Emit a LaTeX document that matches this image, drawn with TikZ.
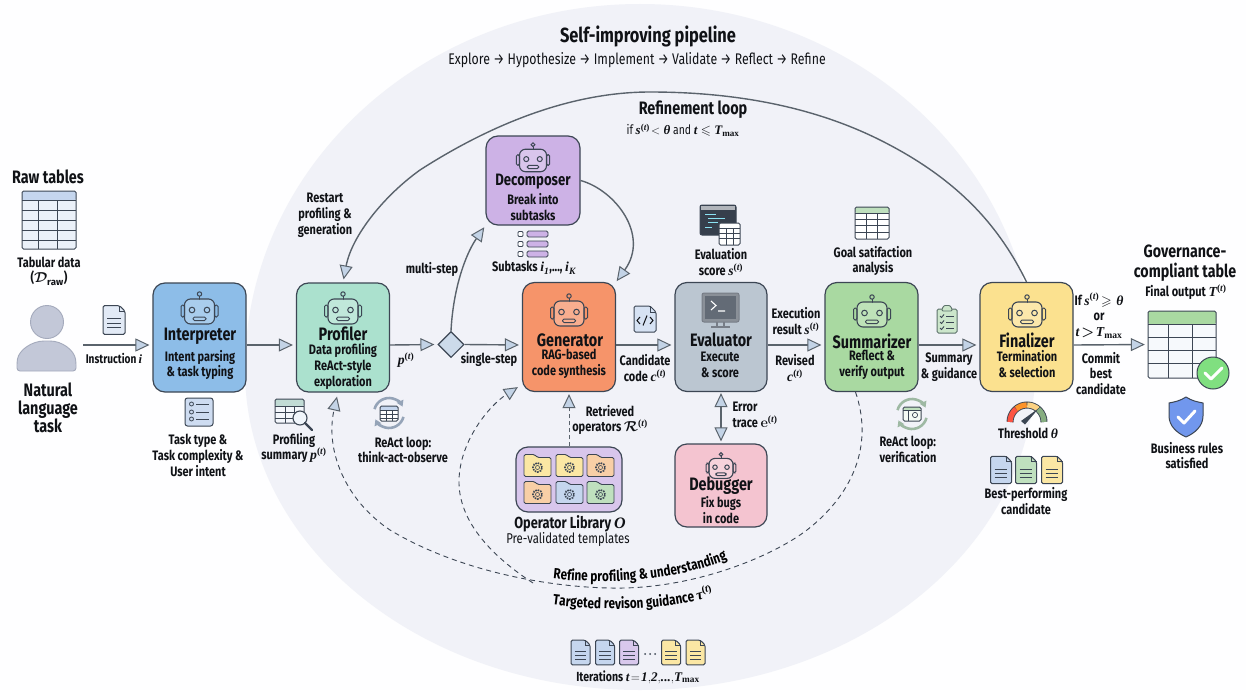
\documentclass[tikz,border=0pt]{standalone}
\usepackage{amsmath,amssymb}
\usepackage{fontspec}
\usetikzlibrary{arrows.meta,shapes.geometric,decorations.text,calc}
\setmainfont{Fira Sans}
\newfontfamily\lbf[FakeStretch=.8]{Fira Sans}
\newfontfamily\mthf{Liberation Serif}
\newcommand\mv[1]{\text{\mthf\bfseries\itshape #1}}
\newcommand\tsp{^{\text{\mthf\bfseries(\itshape t\upshape)}}}
\newcommand\tmx{\mv{T}_{\text{\mthf\bfseries max}}}
\newcommand\lblfont{\lbf\bfseries\fontsize{13.7}{15.8}\selectfont\boldmath}
\newcommand\crvfont{\lbf\bfseries\fontsize{14.7}{15.8}\selectfont\boldmath}
\newcommand\ttlfont{\lbf\bfseries\fontsize{18}{20}\selectfont\boldmath}
\newcommand\bigfont{\lbf\bfseries\fontsize{18}{17.8}\selectfont\boldmath}
\definecolor{bdr}{HTML}{3C4654}
\definecolor{arrf}{HTML}{C3D3E6}
\definecolor{lin}{HTML}{5A636C}
\definecolor{bgp}{HTML}{F1F2F8}
\definecolor{dkt}{HTML}{101216}
\definecolor{cblue}{HTML}{C5D6EE}
\definecolor{cgreen}{HTML}{BFE0BE}
\definecolor{cyel}{HTML}{FBE7A4}
\definecolor{cpur}{HTML}{D8C8EC}
\definecolor{corg}{HTML}{F8CFA6}
\definecolor{cteal}{HTML}{BFDDCB}
\definecolor{intpc}{HTML}{8DBDE8}
\definecolor{profc}{HTML}{ABE1CE}
\definecolor{decoc}{HTML}{CDB2E6}
\definecolor{genc}{HTML}{F6946A}
\definecolor{evalc}{HTML}{BBC6D1}
\definecolor{debc}{HTML}{F4C4D0}
\definecolor{sumc}{HTML}{A9D9A1}
\definecolor{finc}{HTML}{FBE18F}
\definecolor{libc}{HTML}{D8C6EC}
\definecolor{persf}{HTML}{C3C8D8}
\definecolor{perse}{HTML}{A4AABC}
\tikzset{
  box/.style={draw=bdr,line width=1.2pt,rounded corners=12pt,inner sep=0pt,minimum width=93pt,minimum height=109pt},
  conn/.style={draw=lin,line width=1.4pt,-{Triangle[length=14pt,width=13pt,fill=arrf,color=lin,line width=1pt]},shorten >=3pt},
  dconn/.style={conn,draw=bdr,line width=.9pt,dash pattern=on 5pt off 4pt,shorten >=0pt},
  lbl/.style={font=\lblfont,align=center,inner sep=0pt,text=dkt},
  ttl/.style={font=\ttlfont,align=center,inner sep=0pt,text=dkt},
  bigl/.style={font=\bigfont,align=center,inner sep=0pt,text=dkt},
  robot/.pic={
    \draw[bdr,line width=1pt] (0,-11) -- (0,-15);
    \draw[bdr,line width=1pt] (0,-17) circle[radius=2.2pt];
    \draw[bdr,line width=1pt,rounded corners=1.5pt] (-18.5,-6) rectangle (-15,6);
    \draw[bdr,line width=1pt,rounded corners=1.5pt] (15,-6) rectangle (18.5,6);
    \draw[bdr,line width=1.1pt,rounded corners=6pt,fill=white,fill opacity=.25] (-15,-12) rectangle (15,13);
    \draw[bdr,line width=1pt] (-7.5,-1) circle[radius=2.8pt];
    \draw[bdr,line width=1pt] (7.5,-1) circle[radius=2.8pt];
    \draw[bdr,line width=1pt,rounded corners=1.5pt] (-6.5,6) rectangle (6.5,9.5);
  },
  doc/.pic={
    \draw[bdr,line width=1pt,fill=#1,rounded corners=1.5pt] (-10,-13) -- (5,-13) -- (10,-8) -- (10,13) -- (-10,13) -- cycle;
    \draw[bdr,line width=.8pt] (5,-13) -- (5,-8) -- (10,-8);
    \draw[bdr,line width=.9pt] (-6,-1) -- (6,-1) (-6,3) -- (6,3) (-6,7) -- (6,7);
  },
  folder/.pic={
    \draw[bdr,line width=.9pt,fill=#1,rounded corners=1.5pt] (-13.5,-11) -- (-3,-11) -- (0,-8) -- (13.5,-8) -- (13.5,11) -- (-13.5,11) -- cycle;
    \draw[bdr,line width=1.6pt,dash pattern=on 1.6pt off 1pt] (0,2) circle[radius=4.6pt];
    \draw[bdr,line width=.6pt] (0,2) circle[radius=2pt];
  },
}
\newcommand\gridt[9]{%
  \fill[#7,rounded corners=1.5pt] (#1,#2) rectangle (#3,#4);
  \fill[#6,rounded corners=1.5pt] (#1,#2) rectangle (#3,#5);
  \foreach \gx in {#8} \draw[bdr,line width=.9pt] (\gx,#5) -- (\gx,#4);
  \foreach \gy in {#9} \draw[bdr,line width=.9pt] (#1,\gy) -- (#3,\gy);
  \draw[bdr,line width=1pt,rounded corners=1.5pt] (#1,#2) rectangle (#3,#4);
}
\begin{document}
\begin{tikzpicture}[x=1pt,y=-1pt]
\useasboundingbox (0,0) rectangle (1246,690);
\fill[white!96!bgp] (0,0) rectangle (1246,690);
% big region
\fill[bgp] (245,370) .. controls (245,168) and (422,4) .. (640,4) .. controls (858,4) and (1035,168) .. (1035,370) .. controls (1035,547) and (858,690) .. (640,690) .. controls (422,690) and (245,547) .. (245,370) -- cycle;
\coordinate (ax) at (0,345);

% boxes
\node[box,fill=intpc] (intp) at (199.5,337.5) {};
\node[box,fill=profc] (prof) at (343,337.5) {};
\node[box,fill=decoc,minimum height=89pt,minimum width=94pt] (deco) at (533,180.5) {};
\node[box,fill=genc] (gen) at (569,337) {};
\node[box,fill=evalc,minimum width=92pt] (eval) at (721,337) {};
\node[box,fill=debc,minimum width=92pt,minimum height=83pt] (debg) at (721,485.5) {};
\node[box,fill=libc,minimum width=106pt,minimum height=65pt] (lib) at (569,479.5) {};
\node[box,fill=sumc] (summ) at (871.5,337) {};
\node[box,fill=finc] (fina) at (1026.5,337) {};
\node[draw=bdr,fill=arrf!85!white,line width=1.1pt,diamond,aspect=1,minimum width=26pt,minimum height=26pt,inner sep=0pt] (dia) at (451,344.5) {};
\node[inner sep=0pt,minimum width=68pt,minimum height=67pt] (otab) at (1182,344.5) {};
\coordinate (pers) at (83,345);

% refinement loop
\draw[conn] (fina.north) .. controls (1000,228) and (960,180) .. (880,140) .. controls (810,105) and (730,92) .. (650,92) .. controls (570,92) and (490,125) .. (420,170) .. controls (385,195) and (352,235) .. (prof.north);
% straight connectors
\draw[conn] (pers) -- (intp.west |- ax);
\draw[conn] (intp.east |- ax) -- (prof.west |- ax);
\draw[conn] (prof.east |- ax) -- (dia.west);
\draw[conn] (dia.east) -- (gen.west |- ax);
\draw[conn] (gen.east |- ax) -- (eval.west |- ax);
\draw[conn] (eval.east |- ax) -- (summ.west |- ax);
\draw[conn] (summ.east |- ax) -- (fina.west |- ax);
\draw[conn] (fina.east |- ax) -- (otab.west);
\draw[conn,shorten >=2pt] (dia.north) .. controls (453,290) and (465,255) .. (deco.south west);
\draw[conn,shorten >=1pt] (deco.east) .. controls (615,190) and (650,235) .. (gen.north east);
\draw[lin,line width=1.4pt,{Triangle[length=14pt,width=13pt,fill=arrf,color=lin,line width=1pt]}-{Triangle[length=14pt,width=13pt,fill=arrf,color=lin,line width=1pt]},shorten >=2pt,shorten <=1pt] (eval.south) -- (debg.north);
\draw[conn,line width=1pt,dash pattern=on 4pt off 3pt,shorten >=2pt] (lib.north) -- (gen.south);
% dashed feedback
\draw[dconn] ($(summ.south)+(-16,0)$) .. controls (872,440) and (858,490) .. (807,530) .. controls (770,558) and (690,590) .. (610,588) .. controls (550,587) and (460,572) .. (390,530) .. controls (345,500) and (325,450) .. ($(prof.south)+(-6,4)$);
\draw[dconn] (533,583) .. controls (490,555) and (458,520) .. (459,480) .. controls (460,440) and (490,405) .. ($(gen.south west)+(-4,-5)$);

% robots
\pic at (199.5,311) {robot};
\pic at (343,311) {robot};
\pic[scale=.9] at (533,160) {robot};
\pic at (569,313) {robot};
\pic[scale=.8] at (721,468) {robot};
\pic at (872,314) {robot};
\pic at (1027,314) {robot};

% box texts
\node[bigl] (t1) at (200,336) {Interpreter};
\node[lbl] (s1) at (200,365) {Intent parsing\\\& task typing};
\node[bigl] (t2) at (343,334) {Profiler};
\node[lbl] (s2) at (343,366.5) {Data profiling\\ReAct-style\\exploration};
\node[bigl,font=\lbf\bfseries\fontsize{16.5}{18}\selectfont] (t3) at (533,182) {Decomposer};
\node[lbl] (s3) at (533,207) {Break into\\subtasks};
\node[bigl] (t4) at (570,340) {Generator};
\node[lbl] (s4) at (569,364) {RAG-based\\code synthesis};
\node[bigl] (t5) at (721,340) {Evaluator};
\node[lbl] (s5) at (720,365) {Execute\\\& score};
\node[bigl] (t6) at (721,486) {Debugger};
\node[lbl] (s6) at (721,510) {Fix bugs\\in code};
\node[bigl] (t7) at (872,341) {Summarizer};
\node[lbl] (s7) at (872,365) {Reflect \&\\verify output};
\node[bigl] (t8) at (1027,340) {Finalizer};
\node[lbl] (s8) at (1027,364) {Termination\\\& selection};

% other labels
\node[ttl,font=\lbf\bfseries\fontsize{20.5}{24}\selectfont] (title) at (648,36) {Self-improving pipeline};
\node[lbl,font=\lbf\fontsize{15.4}{16}\selectfont] (subt) at (637,60) {Explore → Hypothesize → Implement → Validate → Reflect → Refine};
\node[ttl,font=\lbf\bfseries\fontsize{18}{20}\selectfont] (reft) at (693,110) {Refinement loop};
\node[lbl,font=\lbf\fontsize{13}{14}\selectfont] (refc) at (683,130) {if $\mv{s}\tsp\!<\mv{θ}$ and $\mv{t}\leqslant\tmx$};
\node[bigl] (a1) at (48,177) {Raw tables};
\node[lbl] (a2) at (49,271) {Tabular data\\($\mathcal{D}_{\mathrm{raw}}$)};
\node[bigl] (a3) at (48,408) {Natural\\language\\task};
\node[lbl,font=\lbf\bfseries\fontsize{12.6}{15}\selectfont] (a4) at (114,358) {Instruction $\mv{i}$};
\node[lbl] (a5) at (198,455.5) {Task type \&\\Task complexity \&\\User intent};
\node[lbl] (a6) at (294,448) {Profiling\\summary $\mv{p}\tsp$};
\node[lbl] (a7) at (325,215) {Restart\\profiling \&\\generation};
\node[lbl] (a8) at (406,360) {$\mv{p}\tsp$};
\node[lbl] (a9) at (403,450) {ReAct loop:\\think-act-observe};
\node[lbl] (a10) at (432,269) {multi-step};
\node[lbl] (a11) at (489,359) {single-step};
\node[lbl] (a12) at (534,268) {Subtasks $\mv{i}_{\mv{1}}$,..., $\mv{i}_{\mv{K}}$};
\node[lbl] (a13) at (610,420) {Retrieved\\operators $\mathcal{R}\tsp$};
\node[lbl,font=\lbf\bfseries\fontsize{16}{16}\selectfont] (a14) at (570,524) {Operator Library $\mv{O}$};
\node[lbl,font=\lbf\fontsize{14.2}{16}\selectfont] (a15) at (568,539) {Pre-validated templates};
\node[lbl] (a16) at (645,368) {Candidate\\code $\mv{c}\tsp$};
\node[lbl] (a17) at (721,262) {Evaluation\\score $\mv{s}\tsp$};
\node[lbl] (a18) at (796,321) {Execution\\result $\mv{s}\tsp$};
\node[lbl] (a19) at (795,368) {Revised\\$\mv{c}\tsp$};
\node[lbl,align=left] (a20) at (755,415) {Error\\trace $\mathbf{e}\tsp$};
\node[lbl] (a21) at (873,261) {Goal satifaction\\analysis};
\node[lbl] (a22) at (949,367.5) {Summary\\\& guidance};
\node[lbl,align=left] (a23) at (908,449.5) {ReAct loop:\\verification};
\node[lbl] (a24) at (1028,433) {Threshold $\mv{θ}$};
\node[lbl] (a25) at (1026,501) {Best-performing\\candidate};
\node[lbl] (a26) at (1099,316) {If $\mv{s}\tsp\!\geqslant\mv{θ}$\\or\\$\mv{t}\!>\!\tmx$};
\node[lbl] (a27) at (1101,373.5) {Commit\\best\\candidate};
\node[ttl,font=\lbf\bfseries\fontsize{17.8}{20}\selectfont] (a28) at (1185,263) {Governance-\\compliant table};
\node[lbl,font=\lbf\bfseries\fontsize{13.8}{16}\selectfont] (a29) at (1186,292) {Final output $\mv{T}\tsp$};
\node[lbl] (a30) at (1187,455.5) {Business rules\\satisfied};
\node[lbl,font=\lbf\bfseries\fontsize{13.2}{16}\selectfont] (a31) at (638,677) {Iterations $\mv{t}\!=\!\mv{1},\!\mv{2},\!\mv{...},\!\tmx$};

% curved labels
\path[decorate,decoration={text along path,text align={center},text={|\crvfont|Refine profiling {\&} understanding}}] (546,578) .. controls (610,586) and (680,580) .. (734,557);
\path[decorate,decoration={text along path,text align={center},text={|\crvfont|Targeted revison guidance {$\mv{τ}\tsp$}}}] (546,604) .. controls (610,613) and (672,610) .. (720,594);

% === icons ===
% person
\fill[persf,draw=perse,line width=.9pt] (47,322) circle[radius=16.5pt];
\fill[persf,draw=perse,line width=.9pt,rounded corners=3pt] (17,371) -- (17,362) .. controls (19,350) and (32,341) .. (47,341) .. controls (62,341) and (74,350) .. (76,362) -- (76,371) -- cycle;
% raw table
\gridt{22}{191}{76}{249}{200}{cblue}{cblue!35!white}{38,57}{200,210,220,230,240}
% instruction doc
\pic[scale=1.1,xscale=1] at (114,320) {doc=cblue!50!white};
% task list
\draw[bdr,line width=1pt,fill=cblue!85!white,rounded corners=2.5pt] (185,398) rectangle (213,426);
\foreach \ty in {404,412,419}{\draw[bdr,line width=.8pt] (191.5,\ty) circle[radius=2pt];\draw[bdr,line width=1pt] (196,\ty) -- (209,\ty);}
% profiling table lens
\gridt{275}{399}{304}{423}{406}{cteal!70!cblue}{white!80!cblue}{285,294}{406,412,418}
\draw[bdr,line width=1.1pt,fill=white!75!cblue] (300,418) circle[radius=7pt];
\draw[bdr,line width=2.4pt,line cap=round] (305,423) -- (312,430);
% ReAct loop 1
\draw[cblue!65!bdr,line width=2.6pt,-{Triangle[length=6pt,width=7pt]}] (389,413) ++(165:15pt) arc[start angle=165,end angle=25,radius=15pt];
\draw[cblue!65!bdr,line width=2.6pt,-{Triangle[length=6pt,width=7pt]}] (389,413) ++(-15:15pt) arc[start angle=-15,end angle=-155,radius=15pt];
\gridt{380}{406}{398}{421}{410}{cblue}{white}{386,392}{410,414,418}
% decomposer subtasks
\foreach \ty in {234,244,254}{\draw[bdr,line width=.9pt,rounded corners=1pt,fill=white] (518,\ty-2.5) rectangle (523,\ty+2.5);\draw[bdr,line width=.9pt,rounded corners=1.5pt,fill=decoc] (527,\ty-3) rectangle (548,\ty+3);}
% eval terminal + table
\draw[bdr,line width=1pt,fill=bdr!90!black,rounded corners=2pt] (700,205) rectangle (736,235);
\fill[bdr!40!white] (701,206) rectangle (735,210);
\draw[cblue!70!cyan,line width=1pt] (705,214) -- (716,214) (708,218) -- (725,218) (708,222) -- (718,222) (705,227) -- (712,227);
\gridt{719}{223}{740}{245}{228}{white}{white}{726,733}{228,233,238}
% candidate code doc
\draw[bdr,line width=1pt,fill=cblue!70!white,rounded corners=1.5pt] (634,306) -- (650,306) -- (656,312) -- (656,332) -- (634,332) -- cycle;
\draw[bdr,line width=.8pt] (650,306) -- (650,312) -- (656,312);
\draw[dkt,line width=1pt] (640,317) -- (637,320.5) -- (640,324) (650,317) -- (653,320.5) -- (650,324) (647,315.5) -- (643,325.5);
% monitor
\draw[bdr!70!white,line width=1pt,fill=bdr!60!white,rounded corners=2pt] (702,293) rectangle (739,322);
\fill[bdr!80!white] (705,296) rectangle (736,318.5);
\draw[white,line width=1.1pt] (711,301) -- (716,305.5) -- (711,310) (718,311) -- (725,311);
\draw[bdr!70!white,line width=1.2pt] (717,322) -- (717,327) (724,322) -- (724,327) (711,327) -- (730,327);
% library folders
\pic at (537.5,465.5) {folder=cyel};
\pic at (569.5,465.5) {folder=cyel};
\pic at (600.5,465.5) {folder=corg};
\pic at (537.5,492.5) {folder=corg};
\pic at (569.5,492.5) {folder=cblue};
\pic at (600.5,492.5) {folder=cgreen};
% goal table
\gridt{855}{207}{889}{239}{213}{cgreen}{white}{866,877}{213,219,225,232}
% clipboard
\draw[bdr!70!sumc,line width=1pt,fill=cgreen!80!white,rounded corners=1.5pt] (937,309) rectangle (957,333);
\draw[bdr!70!sumc,line width=.9pt,fill=cgreen!80!white,rounded corners=1pt] (942,309) -- (944,305.5) -- (950,305.5) -- (952,309) -- (952,311) -- (942,311) -- cycle;
\foreach \ty in {316,322,328}{\draw[bdr,line width=.9pt] (940,\ty) -- (941.5,\ty+1.5) -- (944,\ty-1.5);\draw[bdr,line width=.9pt] (946,\ty) -- (954,\ty);}
% react loop 2
\draw[cgreen!75!bdr,line width=2.6pt,-{Triangle[length=6pt,width=7pt]}] (912,414) ++(165:15pt) arc[start angle=165,end angle=25,radius=15pt];
\draw[cgreen!75!bdr,line width=2.6pt,-{Triangle[length=6pt,width=7pt]}] (912,414) ++(-15:15pt) arc[start angle=-15,end angle=-155,radius=15pt];
\gridt{903}{407}{921}{421}{410}{cgreen}{white!85!cgreen}{908}{410}
\draw[bdr,line width=.7pt] (915,415) circle[radius=2.6pt];
% gauge
\draw[bdr,line width=7pt] (1027,422) ++(180:17pt) arc[start angle=180,end angle=0,radius=17pt];
\draw[red!60!corg,line width=5.2pt] (1027,422) ++(180:17pt) arc[start angle=180,end angle=130,radius=17pt];
\draw[orange!75!corg,line width=5.2pt] (1027,422) ++(129:17pt) arc[start angle=129,end angle=91,radius=17pt];
\draw[cyel!80!orange,line width=5.2pt] (1027,422) ++(89:17pt) arc[start angle=89,end angle=50,radius=17pt];
\draw[sumc!80!black,line width=5.2pt] (1027,422) ++(49:17pt) arc[start angle=49,end angle=0,radius=17pt];
\fill[bdr] (1021,421) -- (1039,408) -- (1025,424.5) -- cycle;
% best candidates
\pic[scale=1.05] at (1001,470) {doc=cblue};
\pic[scale=1.05] at (1026,470) {doc=cgreen};
\pic[scale=1.05] at (1052,470) {doc=cyel};
% output table
\gridt{1148}{311}{1216}{378}{324}{sumc}{white!85!cblue}{1168,1192}{324,337,350,363}
\draw[bdr,line width=1pt,fill=black!25!green!50!white] (1213,373) circle[radius=16pt];
\draw[white,line width=3pt,line cap=round,line join=round] (1205,373) -- (1211,379) -- (1222,368);
% shield
\draw[bdr,line width=1pt,fill=intpc!80!blue,line join=round] (1186,397) .. controls (1192,401) and (1198,402) .. (1203,403) -- (1203,416) .. controls (1203,426) and (1195,433) .. (1186,437) .. controls (1177,433) and (1169,426) .. (1169,416) -- (1169,403) .. controls (1174,402) and (1180,401) .. (1186,397) -- cycle;
\draw[white,line width=3pt,line cap=round,line join=round] (1178,417) -- (1184,423) -- (1195,411);
% iterations docs
\pic[scale=.95] at (580.5,652.5) {doc=cblue};
\pic[scale=.95] at (605,652.5) {doc=cblue};
\pic[scale=.95] at (629,652.5) {doc=cpur};
\pic[scale=.95] at (671,652.5) {doc=cyel};
\pic[scale=.95] at (695.5,652.5) {doc=cyel};
\fill[bdr] (645,654) circle[radius=1pt] (650,654) circle[radius=1pt] (655,654) circle[radius=1pt];
\end{tikzpicture}
\end{document}
